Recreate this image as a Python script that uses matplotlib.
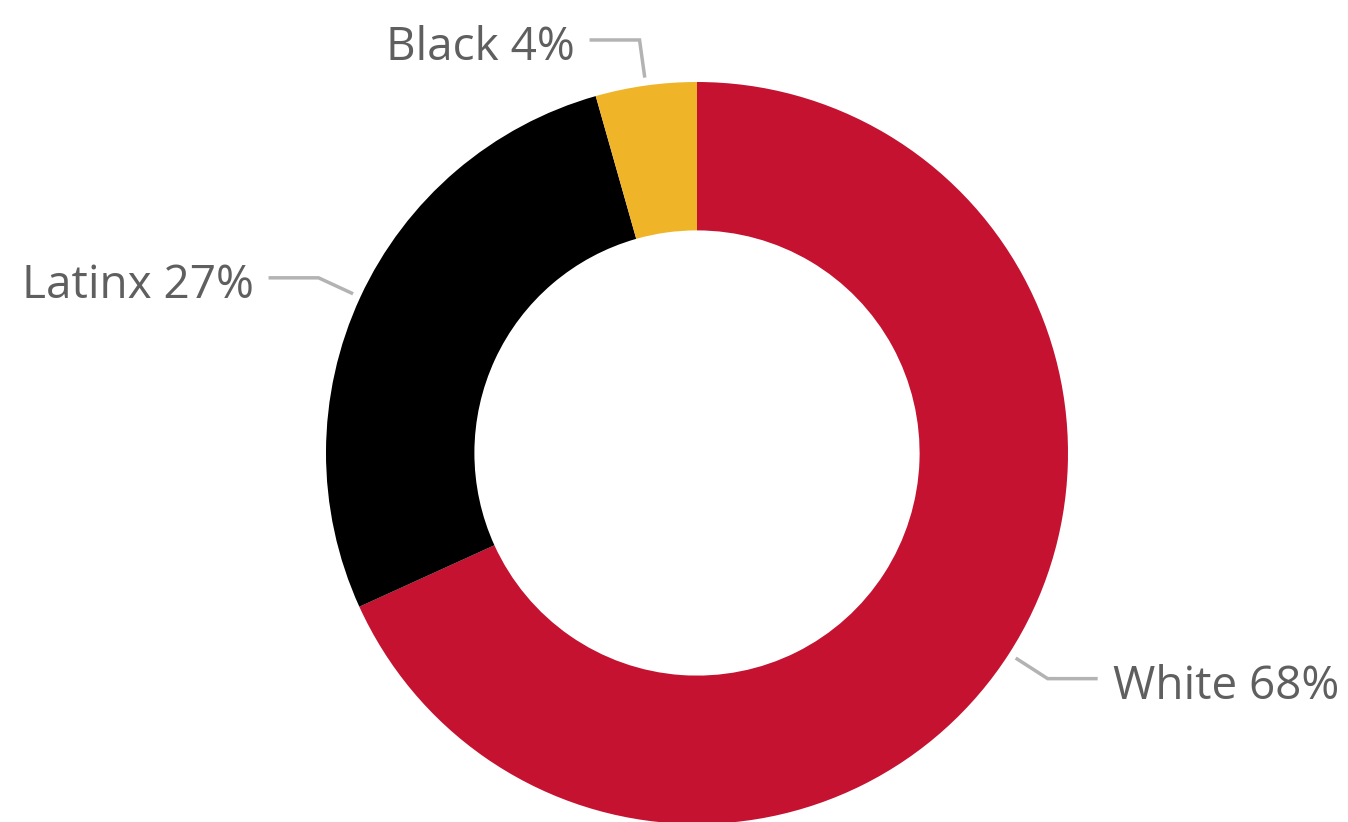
import numpy as np
import matplotlib
matplotlib.use("Agg")
import matplotlib.pyplot as plt

categories = ["White", "Latinx", "Black"]
values = [68.2, 27.4, 4.4]
labels = ["White 68%", "Latinx 27%", "Black 4%"]
colors = ["#C41230", "#000000", "#F0B429"]

W, H = 1348, 822
fig = plt.figure(figsize=(W / 100, H / 100), dpi=100)
ax = fig.add_axes([0, 0, 1, 1])
ax.set_xlim(0, W)
ax.set_ylim(0, H)
ax.set_aspect("equal")
ax.axis("off")

cx, cy = 697, H - 453
R = 371
wedges, _ = ax.pie(values, colors=colors, startangle=90, counterclock=False,
                   radius=R, center=(cx, cy),
                   wedgeprops=dict(width=R * 0.4, linewidth=0))
ax.set_xlim(0, W)
ax.set_ylim(0, H)

for w, lab in zip(wedges, labels):
    ang = np.deg2rad((w.theta1 + w.theta2) / 2)
    dx, dy = np.cos(ang), np.sin(ang)
    r0, r1 = R + 8, R + 46
    x0, y0 = cx + r0 * dx, cy + r0 * dy
    x1, y1 = cx + r1 * dx, cy + r1 * dy
    side = 1 if dx > 0 else -1
    x2 = x1 + side * 50
    ax.plot([x0, x1, x2], [y0, y1, y1], color="#B3B3B3", lw=2.5,
            solid_joinstyle="miter", solid_capstyle="butt")
    ax.text(x2 + side * 15, y1 - 8, lab, ha="left" if side > 0 else "right",
            va="center", fontsize=33, color="#5F5F5F", family="Open Sans")

fig.savefig("out.png", dpi=100)
